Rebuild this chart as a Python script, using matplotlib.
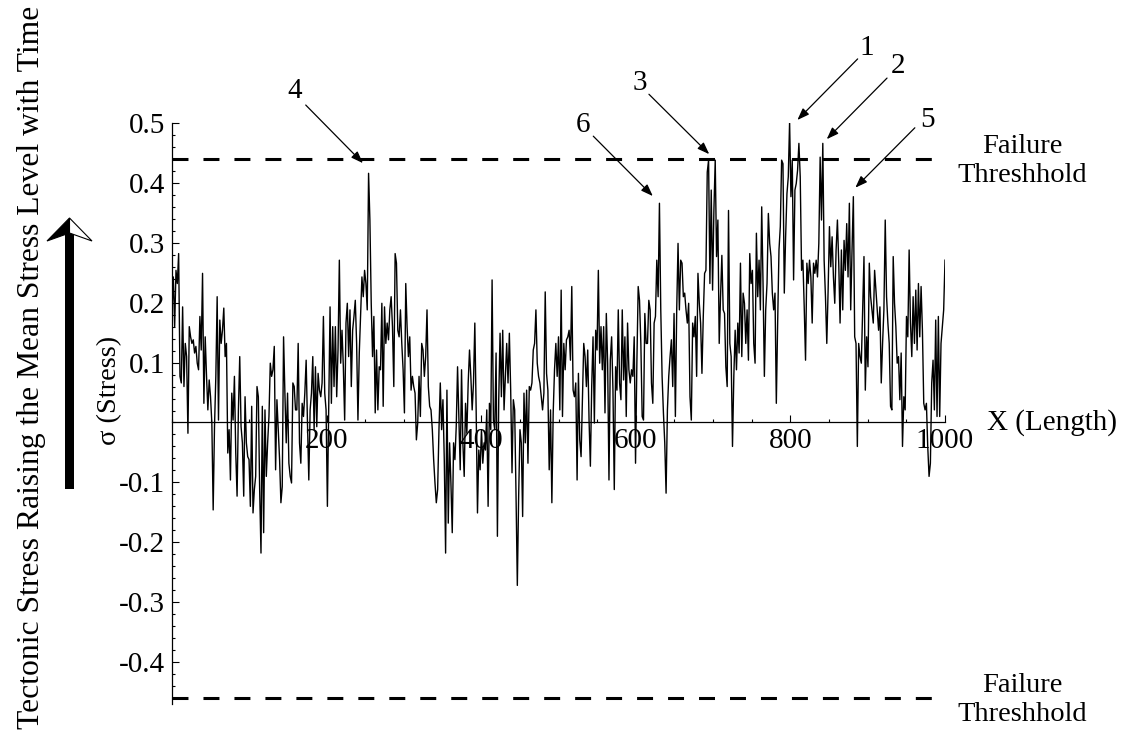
import matplotlib
matplotlib.use("Agg")
import matplotlib.pyplot as plt
import numpy as np
from matplotlib.ticker import FixedLocator, MultipleLocator
from matplotlib.patches import Polygon, Rectangle

plt.rcParams['font.family'] = ['Liberation Serif', 'DejaVu Serif']
plt.rcParams['axes.unicode_minus'] = False
plt.rcParams['lines.scale_dashes'] = False

# stress values, left to right, evenly spaced over 0..1000
seg1 = [0.188, 0.243, 0.160, 0.254, 0.232, 0.282, 0.077, 0.066, 0.193, 0.060,
        0.132, 0.110, -0.018, 0.160, 0.143, 0.132, 0.138, 0.116, 0.127, 0.099,
        0.088, 0.177, 0.121, 0.249, 0.032, 0.143, 0.077, 0.021, 0.071, 0.043,
        -0.001, -0.146, -0.007, 0.077, 0.210, 0.004, 0.171, 0.132, 0.154, 0.191,
        0.110, 0.132, -0.051, -0.012, -0.096, 0.049, 0.004, 0.077, -0.051, -0.123,
        0.021, 0.110, -0.007, -0.034, -0.123, 0.043, -0.034, -0.057, -0.062, -0.140,
        0.027, -0.151, -0.112, -0.090, 0.060, 0.043, -0.112, -0.218, 0.027, -0.184,
        0.021, -0.090, -0.034, 0.010, 0.099, 0.077, 0.088, 0.127, -0.079, 0.038,
        -0.012, -0.062, -0.134, -0.107, 0.143, 0.049, -0.034, 0.049, -0.068, -0.090,
        -0.101, 0.066, 0.060]
seg2 = [0.021, 0.021, 0.132, -0.034, -0.068, 0.032, 0.010, 0.049, 0.104, -0.001,
        -0.096, 0.021, 0.049, 0.110, -0.012, 0.093, -0.007, 0.082, 0.054, 0.043,
        0.066, 0.177, 0.049, 0.021, -0.140, 0.021, 0.193, 0.032, 0.160, 0.060,
        0.160, 0.043, 0.121, 0.271, 0.099, 0.154, 0.093, 0.004, 0.166, 0.199,
        0.110, 0.188, 0.060, 0.154, 0.177, 0.204, 0.132, 0.004, 0.116, 0.182,
        0.243, 0.210, 0.254, 0.232, 0.188, 0.416, 0.338, 0.199, 0.110, 0.177,
        0.016, 0.121, 0.021, 0.093, 0.088, 0.199, 0.027, 0.193, 0.132, 0.166,
        0.138, 0.188, 0.210, 0.160, 0.060, 0.282, 0.266, 0.154, 0.143, 0.188,
        0.132, 0.088, 0.016, 0.232, 0.160, 0.110, 0.143, 0.054, 0.077, 0.060,
        0.049, -0.029, -0.001, 0.077, 0.010, 0.132, 0.121, 0.077]
seg3 = [0.110, 0.188, 0.060, 0.027, 0.021, -0.012, -0.062, -0.101, -0.134, -0.112,
        -0.012, 0.066, -0.012, 0.038, -0.062, -0.218, 0.054, -0.168, -0.034, -0.101,
        -0.184, -0.034, -0.062, -0.007, 0.093, 0.004, -0.079, 0.088, -0.034, -0.090,
        0.032, -0.018, 0.066, 0.121, 0.077, 0.021, 0.066, 0.166, 0.021, -0.151,
        -0.046, -0.079, -0.012, -0.068, -0.034, -0.046, 0.021, -0.140, 0.032, -0.012,
        0.238, 0.004, -0.012, 0.116, -0.190, 0.038, 0.149, 0.043, 0.154, 0.021,
        0.077, 0.132, 0.066, 0.149, 0.054, -0.084, 0.038, 0.021, -0.118, -0.272,
        -0.123, -0.012, -0.034, -0.157, 0.049, -0.034, 0.054, -0.068, 0.060, 0.054,
        0.066, 0.121, 0.132, 0.188, 0.099, 0.077, 0.066, 0.043, 0.021, 0.049,
        0.218, 0.082, 0.054, -0.079, 0.021, -0.134, 0.016, 0.088]
seg4 = [0.132, 0.077, 0.143, 0.021, 0.221, 0.010, 0.132, 0.088, 0.138, 0.143,
        0.154, 0.104, 0.227, 0.054, 0.043, 0.066, -0.096, 0.082, -0.029, -0.057,
        0.038, 0.132, 0.110, 0.060, 0.121, 0.004, -0.073, 0.060, 0.143, -0.001,
        0.154, 0.121, 0.254, 0.099, 0.160, 0.088, 0.160, 0.016, 0.182, 0.099,
        -0.096, 0.104, 0.143, 0.054, -0.112, 0.093, 0.054, 0.188, 0.066, 0.038,
        0.188, 0.071, 0.143, 0.010, 0.166, 0.088, 0.066, 0.088, 0.077, 0.143,
        -0.068, 0.099, 0.227, 0.204, 0.132, 0.010, 0.004, 0.182, 0.132, 0.132,
        0.204, 0.188, 0.066, 0.032, 0.166, 0.177, 0.271, 0.210, 0.366, 0.188,
        0.077, 0.016, -0.034, -0.118, 0.021, 0.077, 0.110, 0.138, 0.060, 0.182,
        0.010, 0.188, 0.299, 0.188, 0.271, 0.266, 0.210, 0.216]
seg5 = [0.188, 0.166, 0.199, 0.043, 0.004, 0.166, 0.143, 0.177, 0.077, 0.249,
        0.199, 0.166, 0.082, 0.177, 0.249, 0.254, 0.418, 0.438, 0.232, 0.388,
        0.221, 0.354, 0.438, 0.277, 0.338, 0.132, 0.210, 0.279, 0.188, 0.182,
        0.093, 0.060, 0.354, 0.132, 0.110, -0.040, 0.077, 0.154, 0.088, 0.166,
        0.116, 0.266, 0.110, 0.216, 0.199, 0.132, 0.188, 0.104, 0.282, 0.232,
        0.254, 0.132, 0.099, 0.316, 0.210, 0.271, 0.188, 0.360, 0.232, 0.077,
        0.188, 0.232, 0.349, 0.299, 0.277, 0.216, 0.188, 0.216, 0.032, 0.166,
        0.288, 0.327, 0.438, 0.432, 0.216, 0.310, 0.382, 0.410, 0.502, 0.377,
        0.438, 0.238, 0.388, 0.399, 0.421, 0.466, 0.410, 0.254, 0.271, 0.193,
        0.104, 0.266, 0.232, 0.271, 0.243, 0.166, 0.266, 0.249]
seg6 = [0.271, 0.243, 0.299, 0.443, 0.338, 0.466, 0.271, 0.210, 0.132, 0.221,
        0.327, 0.260, 0.310, 0.243, 0.199, 0.288, 0.338, 0.266, 0.166, 0.288,
        0.188, 0.304, 0.254, 0.332, 0.243, 0.366, 0.188, 0.288, 0.377, 0.143,
        0.132, -0.040, 0.132, 0.110, 0.099, 0.188, 0.277, 0.054, 0.143, 0.093,
        0.266, 0.210, 0.188, 0.166, 0.254, 0.221, 0.188, 0.154, 0.193, 0.066,
        0.132, 0.188, 0.338, 0.210, 0.166, 0.132, 0.027, 0.021, 0.277, 0.199,
        0.160, 0.099, 0.110, 0.038, 0.116, -0.040, 0.043, 0.021, 0.177, 0.143,
        0.288, 0.166, 0.110, 0.210, 0.132, 0.221, 0.121, 0.232, 0.143, 0.227,
        0.154, 0.032, 0.021, 0.032, -0.040, -0.090, -0.068, 0.066, 0.104, 0.021,
        0.171, 0.010, 0.177, 0.010, 0.132, 0.160, 0.188, 0.271]

stress = np.array(seg1 + seg2 + seg3 + seg4 + seg5 + seg6)
length = np.linspace(0, 1000, len(stress))

upper_threshold = 0.44
lower_threshold = -0.46

x_ticks = [200, 400, 600, 800, 1000]
y_ticks = [-0.4, -0.3, -0.2, -0.1, 0.1, 0.2, 0.3, 0.4, 0.5]
y_tick_labels = ['-0.4', '-0.3', '-0.2', '-0.1', '0.1', '0.2', '0.3', '0.4', '0.5']

# numbered peaks: label, arrow tip, arrow tail, label position (data units)
peaks = [
    ('4', (247, 0.433), (173, 0.53), (159, 0.553)),
    ('6', (622, 0.378), (545, 0.478), (532, 0.497)),
    ('3', (695, 0.448), (617, 0.548), (605, 0.567)),
    ('1', (809, 0.505), (887, 0.607), (899, 0.625)),
    ('2', (847, 0.473), (925, 0.575), (939, 0.595)),
    ('5', (884, 0.392), (961, 0.492), (978, 0.505)),
]

W, H = 1125, 734
fig = plt.figure(figsize=(W / 100, H / 100), dpi=100)
ax = fig.add_axes([172 / W, 1 - 704 / H, 773 / W, 581 / H])
ax.set_xlim(0, 1000)
ax.set_ylim(-0.47, 0.5)

ax.plot(length, stress, color='black', lw=1.0)
for t in (upper_threshold, lower_threshold):
    ax.plot([0, 990], [t, t], color='black', lw=2.2, dashes=(11.5, 10.8), clip_on=False)

ax.spines['top'].set_visible(False)
ax.spines['right'].set_visible(False)
ax.spines['bottom'].set_position(('data', 0))
for s in ('left', 'bottom'):
    ax.spines[s].set_linewidth(0.9)

ax.xaxis.set_major_locator(FixedLocator(x_ticks))
ax.xaxis.set_minor_locator(MultipleLocator(50))
ax.set_xticklabels([str(v) for v in x_ticks])
ax.yaxis.set_major_locator(FixedLocator(y_ticks))
ax.yaxis.set_minor_locator(MultipleLocator(0.02))
ax.set_yticklabels(y_tick_labels)
ax.tick_params(which='both', direction='in', width=0.8, labelsize=21)
ax.tick_params(which='major', length=5)
ax.tick_params(which='minor', length=2.5)
ax.tick_params(axis='x', pad=4)
ax.tick_params(axis='y', pad=5)

ax.text(1054, 0, 'X (Length)', fontsize=21, ha='left', va='center')
for t in (upper_threshold, lower_threshold):
    ax.text(1100, t - 0.003, 'Failure\nThreshhold', fontsize=20.5, ha='center',
            va='center', multialignment='center')

for label, tip, tail, pos in peaks:
    ax.annotate('', xy=tip, xytext=tail, annotation_clip=False,
                arrowprops=dict(arrowstyle='-|>,head_length=0.6,head_width=0.22',
                                color='black', lw=0.9, mutation_scale=12,
                                shrinkA=0, shrinkB=0))
    ax.text(pos[0], pos[1], label, fontsize=21, ha='center', va='center')

# overlay in pixel units for the side labels and the big arrow
ov = fig.add_axes([0, 0, 1, 1], zorder=-1)
ov.set_xlim(0, W)
ov.set_ylim(H, 0)
ov.axis('off')
ov.text(32, 367, 'Tectonic Stress Raising the Mean Stress Level with Time',
        fontsize=22.8, rotation=90, ha='center', va='center')
ov.text(110, 390, 'σ (Stress)', fontsize=20.5, rotation=90, ha='center', va='center')
ov.add_patch(Rectangle((65, 232), 9, 257, color='black', lw=0))
ov.add_patch(Polygon([(69.5, 218), (47, 241), (69.5, 233)], closed=True,
                     facecolor='black', edgecolor='black', lw=0.8))
ov.add_patch(Polygon([(69.5, 218), (92, 241), (69.5, 233)], closed=True,
                     facecolor='white', edgecolor='black', lw=0.8))

fig.savefig('out.png', dpi=100)
